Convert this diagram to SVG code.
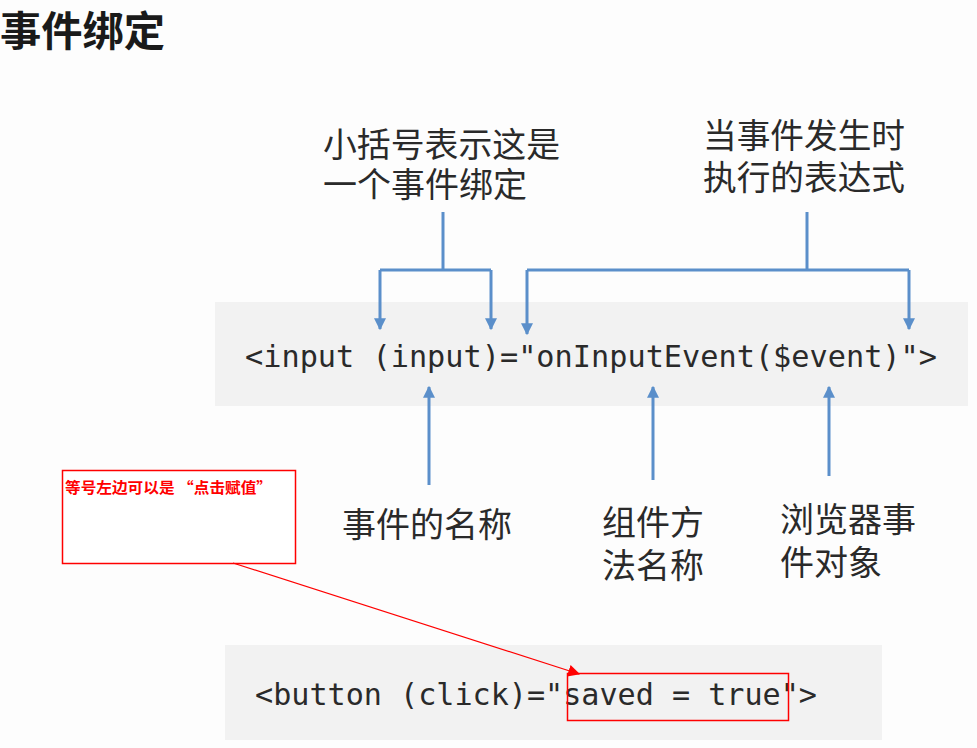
<svg xmlns="http://www.w3.org/2000/svg" width="977" height="748" viewBox="0 0 977 748">
<style>
.bg{fill:#fdfdfd}
.code-bg{fill:#f2f2f2}
.code{font-family:"DejaVu Sans Mono","Liberation Mono",monospace;font-size:30px;fill:#2a2a2a}
.lbl{font-family:"Noto Sans CJK SC",sans-serif;font-size:34px;fill:#2a2a2a}
.title{font-family:"Noto Sans CJK SC",sans-serif;font-size:41px;font-weight:bold;fill:#1a1a1a}
.wire{fill:none;stroke:#5b8fca;stroke-width:3}
.note{fill:#fff;stroke:#f00;stroke-width:1.5}
.notetext{font-family:"Noto Sans CJK SC",sans-serif;font-size:15px;font-weight:bold;fill:#f00}
</style>
<defs>
<marker id="ah" viewBox="0 0 10 10" refX="9" refY="5" markerWidth="4" markerHeight="4" orient="auto"><path d="M0,0L10,5L0,10z" fill="#5b8fca"/></marker>
<marker id="rah" viewBox="0 0 10 10" refX="9" refY="5" markerWidth="12" markerHeight="12" markerUnits="userSpaceOnUse" orient="auto"><path d="M0,0L10,5L0,10z" fill="#f00"/></marker>
</defs>
<rect class="bg" x="0" y="0" width="977" height="748"/>
<text class="title" x="0" y="46" textLength="165" lengthAdjust="spacingAndGlyphs">事件绑定</text>

<g id="code1">
<rect class="code-bg" x="215" y="302" width="753" height="104"/>
<text class="code" x="245" y="367" textLength="692" lengthAdjust="spacingAndGlyphs">&lt;input (input)="onInputEvent($event)"&gt;</text>
</g>

<g id="label-paren">
<text class="lbl" x="323" y="157" textLength="237" lengthAdjust="spacingAndGlyphs">小括号表示这是</text>
<text class="lbl" x="323" y="197">一个事件绑定</text>
</g>
<g id="label-expr">
<text class="lbl" x="703" y="148" textLength="202" lengthAdjust="spacingAndGlyphs">当事件发生时</text>
<text class="lbl" x="703" y="190" textLength="202" lengthAdjust="spacingAndGlyphs">执行的表达式</text>
</g>
<g id="label-name">
<text class="lbl" x="342" y="537">事件的名称</text>
</g>
<g id="label-method">
<text class="lbl" x="602" y="535">组件方</text>
<text class="lbl" x="602" y="578">法名称</text>
</g>
<g id="label-event">
<text class="lbl" x="780" y="532">浏览器事</text>
<text class="lbl" x="780" y="575">件对象</text>
</g>

<g id="note">
<rect class="note" x="62.5" y="470.5" width="233" height="93"/>
<text class="notetext" x="65" y="493" textLength="207" lengthAdjust="spacingAndGlyphs">等号左边可以是 “点击赋值”</text>
</g>

<g id="code2">
<rect class="code-bg" x="225" y="645" width="657" height="95"/>
<text class="code" x="255" y="705" textLength="562" lengthAdjust="spacingAndGlyphs">&lt;button (click)="saved = true"&gt;</text>
<rect x="567.5" y="673.5" width="221" height="47" fill="none" stroke="#f00" stroke-width="1.5"/>
</g>

<g id="connectors">
<path class="wire" d="M443,212V270"/>
<path class="wire" d="M380,270H491"/>
<path class="wire" d="M380,270V329" marker-end="url(#ah)"/>
<path class="wire" d="M491,270V329" marker-end="url(#ah)"/>
<path class="wire" d="M807,212V270"/>
<path class="wire" d="M527,270H909"/>
<path class="wire" d="M527,270V334" marker-end="url(#ah)"/>
<path class="wire" d="M909,270V329" marker-end="url(#ah)"/>
<path class="wire" d="M429,485V387" marker-end="url(#ah)"/>
<path class="wire" d="M653,480V387" marker-end="url(#ah)"/>
<path class="wire" d="M829,476V387" marker-end="url(#ah)"/>
<path d="M233,563L579,674" stroke="#f00" stroke-width="1.2" fill="none" marker-end="url(#rah)"/>
</g>
</svg>
